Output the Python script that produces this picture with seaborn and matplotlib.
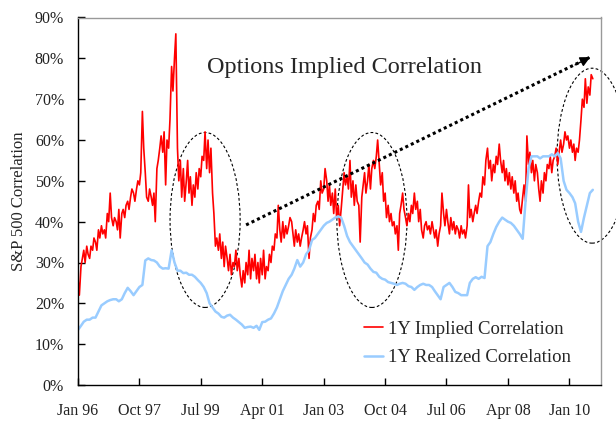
import numpy as np
import pandas as pd
import matplotlib
matplotlib.use("Agg")
import matplotlib.pyplot as plt
import seaborn as sns
from matplotlib.patches import Ellipse
from matplotlib.ticker import FuncFormatter

# 1Y implied correlation at half-month steps (%), Jan 1996 -> Sep 2010
implied_by_year = [
    [26, 22, 29, 31, 33, 30, 34, 32, 31, 34, 33, 36, 35, 33, 38, 36, 39, 37, 38, 36, 42, 40, 47, 41],  # 1996
    [39, 41, 40, 38, 43, 36, 42, 43, 41, 44, 45, 43, 46, 48, 47, 45, 48, 50, 49, 52, 67, 58, 52, 46],  # 1997
    [45, 48, 46, 44, 47, 40, 53, 55, 58, 61, 57, 62, 49, 60, 58, 65, 78, 72, 80, 86, 58, 50, 55, 46],  # 1998
    [53, 45, 50, 55, 47, 51, 44, 49, 46, 52, 48, 53, 51, 56, 55, 62, 53, 60, 52, 58, 47, 42, 34, 36],  # 1999
    [33, 37, 31, 35, 29, 34, 31, 28, 32, 27, 30, 29, 33, 28, 31, 27, 24, 28, 25, 30, 27, 33, 26, 31],  # 2000
    [28, 32, 26, 30, 25, 31, 27, 33, 26, 29, 28, 32, 30, 34, 33, 37, 36, 44, 38, 35, 40, 36, 39, 37],  # 2001
    [39, 41, 40, 37, 34, 38, 35, 37, 34, 36, 38, 40, 37, 39, 31, 36, 38, 42, 40, 44, 45, 43, 50, 47],  # 2002
    [48, 53, 50, 45, 49, 44, 47, 42, 48, 41, 44, 39, 43, 47, 52, 49, 51, 48, 55, 46, 50, 44, 49, 45],  # 2003
    [44, 35, 46, 49, 52, 47, 50, 54, 48, 53, 55, 53, 56, 60, 54, 49, 52, 45, 47, 41, 44, 40, 42, 39],  # 2004
    [40, 37, 39, 33, 42, 44, 47, 43, 41, 39, 42, 40, 44, 42, 47, 43, 45, 40, 43, 38, 36, 39, 40, 38],  # 2005
    [39, 37, 40, 38, 36, 38, 34, 37, 39, 47, 42, 39, 43, 40, 37, 41, 38, 40, 37, 39, 38, 36, 39, 37],  # 2006
    [38, 36, 39, 49, 41, 43, 40, 42, 44, 42, 45, 47, 46, 51, 49, 55, 58, 53, 55, 50, 54, 52, 56, 54],  # 2007
    [59, 55, 52, 55, 50, 53, 49, 52, 48, 51, 47, 50, 45, 47, 43, 42, 46, 49, 45, 61, 54, 57, 52, 55],  # 2008
    [50, 54, 52, 48, 45, 50, 47, 52, 50, 54, 53, 56, 52, 55, 56, 58, 54, 57, 60, 57, 59, 62, 60, 61],  # 2009
    [58, 60, 57, 59, 55, 58, 57, 60, 65, 70, 68, 75, 69, 73, 71, 76, 75],                              # 2010
]

# 1Y realized correlation, monthly (%)
realized_by_year = [
    [13.5, 14.5, 15.5, 16, 16, 16.5, 16.5, 18, 19.5, 20, 20.5, 20.8],
    [21, 21, 20.5, 21, 22.5, 23.8, 23, 22, 23, 24, 24.5, 30.5],
    [31, 30.6, 30.5, 30, 29, 28.5, 28.6, 28.5, 33, 30, 28, 28],
    [27.4, 27.5, 27, 27, 26.5, 25.7, 25, 24, 22.5, 20, 19, 18],
    [17.5, 16.7, 16.5, 17, 17.2, 16.5, 16, 15.4, 14.8, 14, 14.2, 14.3],
    [14, 14.5, 13.5, 15.4, 15.5, 16, 16.3, 17.5, 19, 21, 23, 24.5],
    [26, 27, 28.5, 30.6, 29, 30, 32, 33, 35.5, 36, 37, 38],
    [39, 39.7, 40, 40.5, 41, 41.3, 41, 39, 36.5, 35, 34, 33],
    [32, 31, 30, 29.5, 28.5, 27.7, 27.5, 26.5, 26, 25.8, 25.2, 25],
    [24.8, 24.5, 24.8, 25, 24.8, 24.2, 24, 23.3, 24, 24.5, 24.8, 24.5],
    [24.5, 24, 23, 22, 21, 24, 24.5, 25, 24, 22.8, 22.5, 22],
    [22, 22, 25, 26, 26.4, 26, 26.5, 26.2, 34, 35, 37, 38.7],
    [40, 41, 40.5, 40, 39.7, 39, 38, 37, 35.8, 45, 53, 56],
    [56, 56, 55.5, 56, 56, 56, 56.5, 56, 56.8, 55.5, 50, 47.8],
    [47, 46, 44.5, 40, 37.5, 41, 44, 47, 47.8],
]

tick_dates = pd.date_range("1996-01-01", "2010-01-01", freq="21MS")
y_ticks = list(range(0, 91, 10))

implied = [v for row in implied_by_year for v in row]
realized = [v for row in realized_by_year for v in row]

implied_df = pd.DataFrame({
    "date": pd.date_range("1996-01-01", periods=len(implied), freq="SMS"),
    "corr": implied,
})
realized_df = pd.DataFrame({
    "date": pd.date_range("1996-01-01", periods=len(realized), freq="MS"),
    "corr": realized,
})

sns.set_style("ticks")
plt.rcParams["font.family"] = ["Liberation Serif", "DejaVu Serif"]

fig = plt.figure(figsize=(6.16, 4.21), dpi=100)
ax = fig.add_axes([78 / 616, 36 / 421, 523 / 616, 367.5 / 421])

sns.lineplot(data=implied_df, x="date", y="corr", ax=ax, color="#ff0000",
             lw=1.2, label="1Y Implied Correlation")
sns.lineplot(data=realized_df, x="date", y="corr", ax=ax, color="#99ccff",
             lw=1.8, label="1Y Realized Correlation")

ax.set_xlim(pd.Timestamp("1996-01-01"), pd.Timestamp("2010-11-25"))
ax.set_ylim(0, 90)
ax.set_xticks(tick_dates)
ax.set_xticklabels([d.strftime("%b %y") for d in tick_dates])
ax.set_yticks(y_ticks)
ax.yaxis.set_major_formatter(FuncFormatter(lambda v, p: f"{v:.0f}%"))
ax.tick_params(axis="both", direction="in", length=5, width=1, colors="black",
               labelsize=11.5, labelcolor="#222222")
ax.tick_params(axis="x", pad=13)
ax.tick_params(axis="y", pad=10)
ax.set_xlabel("")
ax.set_ylabel("S&P 500 Correlation", fontsize=12)
ax.yaxis.set_label_coords(-0.098, 0.5)

for side in ["top", "right"]:
    ax.spines[side].set_color("#999999")
    ax.spines[side].set_linewidth(1.0)
for side in ["left", "bottom"]:
    ax.spines[side].set_color("black")
    ax.spines[side].set_linewidth(1.0)

ax.text(0.509, 0.863, "Options Implied Correlation", transform=ax.transAxes,
        ha="center", va="center", fontsize=17.5)

# dotted trend arrow
arrow_start = (pd.Timestamp("2000-10-15"), 39.2)
arrow_end = (pd.Timestamp("2010-08-05"), 80.3)
ax.plot([arrow_start[0], arrow_end[0]], [arrow_start[1], arrow_end[1]],
        color="black", lw=2.2, ls=(0, (1, 1)))
ax.annotate("", xy=arrow_end, xytext=(pd.Timestamp("2010-03-01"), 78.4),
            arrowprops=dict(arrowstyle="-|>", color="black", lw=1,
                            mutation_scale=15, shrinkA=0, shrinkB=0))

# dashed ellipses around the correlation spikes
for cx, cy in [(0.243, 0.449), (0.562, 0.449), (0.983, 0.624)]:
    ax.add_patch(Ellipse((cx, cy), 0.134, 0.476, transform=ax.transAxes,
                         fill=False, ec="black", lw=0.8, ls=(0, (2.5, 2)),
                         clip_on=False))

ax.legend(loc="center left", bbox_to_anchor=(0.547, 0.113), frameon=False,
          fontsize=13.5, handlelength=1.0, handletextpad=0.3,
          labelspacing=0.6, borderpad=0, borderaxespad=0)

fig.savefig("out.png", dpi=100)
